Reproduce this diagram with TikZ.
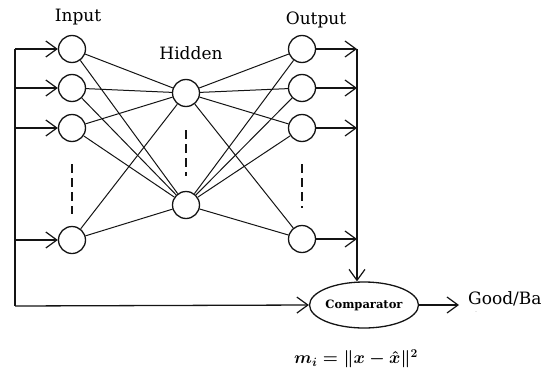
\documentclass[tikz,border=0pt]{standalone}
\usepackage{amsmath}
\usepackage{fontspec}
\usepackage{tikz}
\usetikzlibrary{shapes.geometric, arrows.meta, positioning, calc}
\newfontfamily\labelfont{DejaVu Serif}
\definecolor{mydark}{RGB}{20,20,20}
\tikzset{
  neuron/.style={circle, draw=mydark, fill=white, minimum size=27pt,
    inner sep=0pt, line width=1.3pt},
  compnode/.style={ellipse, draw=mydark, minimum width=105pt,
    minimum height=46pt, inner sep=0pt, line width=1.3pt,
    font=\labelfont\bfseries\fontsize{11.5}{13}\selectfont},
  flow/.style={line width=1.3pt, draw=mydark,
    arrows={-Straight Barb[length=11pt, width=16pt, line width=1.2pt]}},
  line/.style={line width=1.3pt, color=mydark},
  link/.style={line width=1pt, color=mydark},
  dots/.style={line width=1.4pt, dash pattern=on 9pt off 5pt, color=mydark},
  lbl/.style={font=\labelfont\fontsize{17}{19}\selectfont}
}

\begin{document}
\begin{tikzpicture}[x=1pt, y=-1pt]
  \useasboundingbox (0,0) rectangle (548,372);

  % Input layer
  \node[neuron] (in1) at (72,49) {};
  \node[neuron] (in2) at (72,88) {};
  \node[neuron] (in3) at (72,128) {};
  \node[neuron] (in4) at (72,240) {};
  \node[lbl] (inlbl) at (78,17) {Input};

  % Hidden layer
  \node[neuron] (h1) at (186,93) {};
  \node[neuron] (h2) at (186,205) {};
  \node[lbl] (hidlbl) at (191,53) {Hidden};

  % Output layer
  \node[neuron] (out1) at (302,49) {};
  \node[neuron] (out2) at (302,88) {};
  \node[neuron] (out3) at (302,128) {};
  \node[neuron] (out4) at (302,239) {};
  \node[lbl] (outlbl) at (316,20) {Output};

  % Weights
  \foreach \i in {in1,in2,in3,in4} {
    \foreach \j in {h1,h2} {
      \draw[link] (\i) -- (\j);
    }
  }
  \foreach \j in {h1,h2} {
    \foreach \k in {out1,out2,out3,out4} {
      \draw[link] (\j) -- (\k);
    }
  }

  % Omitted units
  \draw[dots] (72,164) -- (72,214);
  \draw[dots] (186,130) -- (186,176);
  \draw[dots] (302,164) -- (302,208);

  % Comparator
  \node[compnode] (comp) at (364,305) {Comparator};
  \node[lbl, anchor=west, inner sep=0pt] (res) at (468,299) {Good/Ba};
  \node[inner sep=0pt] (resdot) at (476,312) {\tiny.};
  \node[font=\fontsize{18}{20}\selectfont] (err) at (356,359) {$\boldsymbol{m_i=\|x-\hat{x}\|^2}$};

  % Input bus
  \coordinate (busTop) at (15,49);
  \coordinate (busBot) at (15,306);
  \draw[line] (busTop) -- (busBot);
  \draw[flow] (busBot) -- (comp.west);
  \draw[flow] (busTop) -- (in1);
  \draw[flow] (15,88) -- (in2);
  \draw[flow] (15,128) -- (in3);
  \draw[flow] (15,240) -- (in4);

  % Output bus
  \coordinate (obusTop) at (357,49);
  \draw[flow] (out1) -- (obusTop);
  \draw[flow] (out2) -- (357,88);
  \draw[flow] (out3) -- (357,128);
  \draw[flow] (out4) -- (357,239);
  \draw[flow] (obusTop) -- (comp.north -| obusTop);
  \draw[flow] (comp.east) -- (459,305);
\end{tikzpicture}
\end{document}
